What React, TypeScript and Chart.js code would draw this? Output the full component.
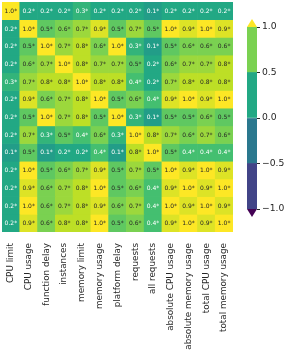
import React, { useEffect, useRef } from "react";
import { Chart, registerables } from "chart.js";

Chart.register(...registerables);

const labels = [
  "CPU limit",
  "CPU usage",
  "function delay",
  "instances",
  "memory limit",
  "memory usage",
  "platform delay",
  "requests",
  "all requests",
  "absolute CPU usage",
  "absolute memory usage",
  "total CPU usage",
  "total memory usage",
];

const rowCpuLimit = [1.0, 0.2, 0.2, 0.2, 0.3, 0.2, 0.2, 0.2, 0.1, 0.2, 0.2, 0.2, 0.2];
const rowCpuUsage = [0.2, 1.0, 0.5, 0.6, 0.7, 0.9, 0.5, 0.7, 0.5, 1.0, 0.9, 1.0, 0.9];
const rowFunctionDelay = [0.2, 0.5, 1.0, 0.7, 0.8, 0.6, 1.0, 0.3, 0.1, 0.5, 0.6, 0.6, 0.6];
const rowInstances = [0.2, 0.6, 0.7, 1.0, 0.8, 0.7, 0.7, 0.5, 0.2, 0.6, 0.7, 0.7, 0.8];
const rowMemoryLimit = [0.3, 0.7, 0.8, 0.8, 1.0, 0.8, 0.8, 0.4, 0.2, 0.7, 0.8, 0.8, 0.8];
const rowMemoryUsage = [0.2, 0.9, 0.6, 0.7, 0.8, 1.0, 0.5, 0.6, 0.4, 0.9, 1.0, 0.9, 1.0];
const rowPlatformDelay = [0.2, 0.5, 1.0, 0.7, 0.8, 0.5, 1.0, 0.3, 0.1, 0.5, 0.5, 0.6, 0.5];
const rowRequests = [0.2, 0.7, 0.3, 0.5, 0.4, 0.6, 0.3, 1.0, 0.8, 0.7, 0.6, 0.7, 0.6];
const rowAllRequests = [0.1, 0.5, 0.1, 0.2, 0.2, 0.4, 0.1, 0.8, 1.0, 0.5, 0.4, 0.4, 0.4];
const rowAbsCpu = [0.2, 1.0, 0.5, 0.6, 0.7, 0.9, 0.5, 0.7, 0.5, 1.0, 0.9, 1.0, 0.9];
const rowAbsMem = [0.2, 0.9, 0.6, 0.7, 0.8, 1.0, 0.5, 0.6, 0.4, 0.9, 1.0, 0.9, 1.0];
const rowTotalCpu = [0.2, 1.0, 0.6, 0.7, 0.8, 0.9, 0.6, 0.7, 0.4, 1.0, 0.9, 1.0, 0.9];
const rowTotalMem = [0.2, 0.9, 0.6, 0.8, 0.8, 1.0, 0.5, 0.6, 0.4, 0.9, 1.0, 0.9, 1.0];

const matrix = [
  rowCpuLimit,
  rowCpuUsage,
  rowFunctionDelay,
  rowInstances,
  rowMemoryLimit,
  rowMemoryUsage,
  rowPlatformDelay,
  rowRequests,
  rowAllRequests,
  rowAbsCpu,
  rowAbsMem,
  rowTotalCpu,
  rowTotalMem,
];

const colorbarTicks = [-1, -0.5, 0, 0.5, 1];
const colorbarBands = [
  [-1, -0.5],
  [-0.5, 0],
  [0, 0.5],
  [0.5, 1],
];
const colorbarColors = ["#414487", "#2a788e", "#22a884", "#7ad151"];
const overColor = "#fde725";
const underColor = "#440154";

const viridisStops = [
  "#440154", "#482475", "#414487", "#355f8d", "#2a788e", "#21918c",
  "#22a884", "#44bf70", "#7ad151", "#bddf26", "#fde725",
];

function hexToRgb(h: string): number[] {
  return [parseInt(h.slice(1, 3), 16), parseInt(h.slice(3, 5), 16), parseInt(h.slice(5, 7), 16)];
}

function viridis(t: number): number[] {
  const c = Math.max(0, Math.min(1, t)) * (viridisStops.length - 1);
  const i = Math.min(Math.floor(c), viridisStops.length - 2);
  const f = c - i;
  const a = hexToRgb(viridisStops[i]);
  const b = hexToRgb(viridisStops[i + 1]);
  return a.map((v, k) => Math.round(v + (b[k] - v) * f));
}

function cellColor(v: number): number[] {
  return viridis((v + 1) / 2);
}

function luminance(rgb: number[]): number {
  const lin = rgb.map((c) => {
    const s = c / 255;
    return s <= 0.03928 ? s / 12.92 : Math.pow((s + 0.055) / 1.055, 2.4);
  });
  return 0.2126 * lin[0] + 0.7152 * lin[1] + 0.0722 * lin[2];
}

const FONT = "'DejaVu Sans', sans-serif";
const TEXT = "#262626";
const LABEL_SIZE = 8.8;

export default function App() {
  const heatRef = useRef<HTMLCanvasElement | null>(null);
  const barRef = useRef<HTMLCanvasElement | null>(null);

  useEffect(() => {
    if (!heatRef.current || !barRef.current) return;

    const datasets = matrix.map((row, r) => ({
      label: labels[r],
      data: row.map(() => [r, r + 1]),
      backgroundColor: row.map((v) => {
        const c = cellColor(v);
        return `rgb(${c[0]},${c[1]},${c[2]})`;
      }),
      borderWidth: 0,
      barPercentage: 1,
      categoryPercentage: 1,
      grouped: false,
    }));

    const annotate = {
      id: "annotate",
      afterDatasetsDraw(chart: any) {
        const ctx = chart.ctx;
        ctx.save();
        ctx.font = `6px ${FONT}`;
        ctx.textAlign = "center";
        ctx.textBaseline = "middle";
        chart.data.datasets.forEach((ds: any, r: number) => {
          const meta = chart.getDatasetMeta(r);
          meta.data.forEach((el: any, c: number) => {
            const v = matrix[r][c];
            const lum = luminance(cellColor(v));
            ctx.fillStyle = lum > 0.408 ? TEXT : "#ffffff";
            ctx.fillText(v.toFixed(1) + "*", el.x, (el.y + el.base) / 2 + 0.5);
          });
        });
        ctx.restore();
      },
    };

    const heat = new Chart(heatRef.current, {
      type: "bar",
      data: { labels, datasets: datasets as any },
      options: {
        animation: false,
        responsive: false,
        maintainAspectRatio: false,
        events: [],
        layout: { padding: { left: 2, top: 2, right: 7, bottom: 0 } },
        plugins: { legend: { display: false }, tooltip: { enabled: false } },
        scales: {
          x: {
            type: "category",
            grid: { display: false },
            border: { display: false },
            ticks: {
              autoSkip: false,
              minRotation: 90,
              maxRotation: 90,
              padding: 3,
              color: TEXT,
              font: { family: FONT, size: LABEL_SIZE },
            },
            afterFit: (s: any) => {
              s.height = 122;
            },
          },
          y: {
            type: "linear",
            min: 0,
            max: matrix.length,
            reverse: true,
            display: false,
          },
        },
      } as any,
      plugins: [annotate],
    });

    const extend = {
      id: "extend",
      afterDatasetsDraw(chart: any) {
        const ctx = chart.ctx;
        const ys = chart.scales.y;
        const { left, right } = chart.chartArea;
        const mid = (left + right) / 2;
        const top = ys.getPixelForValue(1);
        const bot = ys.getPixelForValue(-1);
        const h = 8;
        ctx.save();
        ctx.fillStyle = overColor;
        ctx.beginPath();
        ctx.moveTo(left, top);
        ctx.lineTo(right, top);
        ctx.lineTo(mid, top - h);
        ctx.closePath();
        ctx.fill();
        ctx.fillStyle = underColor;
        ctx.beginPath();
        ctx.moveTo(left, bot);
        ctx.lineTo(right, bot);
        ctx.lineTo(mid, bot + h);
        ctx.closePath();
        ctx.fill();
        ctx.restore();
      },
    };

    const bar = new Chart(barRef.current, {
      type: "bar",
      data: {
        labels: ["cb"],
        datasets: colorbarBands.map((b, i) => ({
          data: [b],
          backgroundColor: colorbarColors[i],
          borderWidth: 0,
          barPercentage: 1,
          categoryPercentage: 1,
          grouped: false,
        })) as any,
      },
      options: {
        animation: false,
        responsive: false,
        maintainAspectRatio: false,
        events: [],
        layout: { padding: { left: 7, top: 27, bottom: 145, right: 0 } },
        plugins: { legend: { display: false }, tooltip: { enabled: false } },
        scales: {
          x: { type: "category", display: false },
          y: {
            type: "linear",
            position: "right",
            min: -1,
            max: 1,
            afterBuildTicks: (s: any) => {
              s.ticks = colorbarTicks.map((v) => ({ value: v }));
            },
            grid: {
              display: true,
              drawOnChartArea: false,
              drawTicks: true,
              tickLength: 3,
              color: TEXT,
            },
            border: { display: false },
            ticks: {
              padding: 2,
              color: TEXT,
              font: { family: FONT, size: 9.2 },
              callback: (v: any) => {
                const n = Number(v);
                const s = Math.abs(n).toFixed(1);
                return n < 0 ? "\u2212" + s : s;
              },
            },
            afterFit: (s: any) => {
              s.width = 33;
            },
          },
        },
      } as any,
      plugins: [extend],
    });

    return () => {
      heat.destroy();
      bar.destroy();
    };
  }, []);

  return (
    <div style={{ position: "absolute", left: 0, top: 0, width: 290, height: 354, background: "#ffffff" }}>
      <canvas ref={heatRef} width={240} height={354} style={{ position: "absolute", left: 0, top: 0, width: 240, height: 354 }} />
      <canvas ref={barRef} width={50} height={354} style={{ position: "absolute", left: 240, top: 0, width: 50, height: 354 }} />
    </div>
  );
}
